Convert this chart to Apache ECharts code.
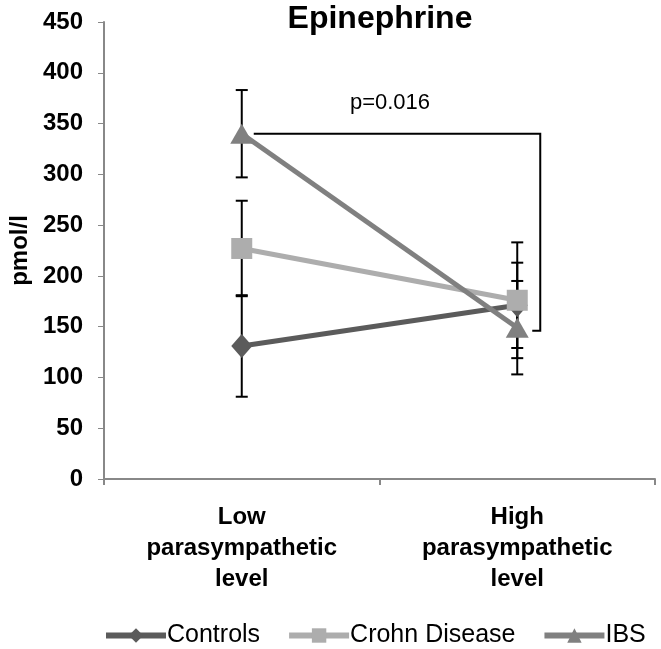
<!DOCTYPE html>
<html><head><meta charset="utf-8">
<script src="https://cdn.jsdelivr.net/npm/echarts@6/dist/echarts.min.js"></script>
<style>html,body{margin:0;padding:0;background:#fff}#c{width:661px;height:649px}</style>
</head><body><div id="c"></div>
<script>
var categories = ['Low\nparasympathetic\nlevel', 'High\nparasympathetic\nlevel'];
var controls = [131, 171];
var controlsErr = [50, 42];
var crohn = [227, 176];
var crohnErr = [47, 57];
var ibs = [340, 149];
var ibsErr = [43, 46];
var yTicks = [0, 50, 100, 150, 200, 250, 300, 350, 400, 450];
var pText = 'p=0.016';

var chart = echarts.init(document.getElementById('c'));
var font = 'Liberation Sans, Arial, sans-serif';

function errData(vals, errs) {
  return vals.map(function (v, i) { return [i, v - errs[i], v + errs[i]]; });
}
function errRender(params, api) {
  var x = api.value(0);
  var lo = api.coord([x, api.value(1)]);
  var hi = api.coord([x, api.value(2)]);
  var w = 6;
  var st = { stroke: '#000', lineWidth: 2 };
  return { type: 'group', children: [
    { type: 'line', shape: { x1: lo[0], y1: lo[1], x2: hi[0], y2: hi[1] }, style: st },
    { type: 'line', shape: { x1: lo[0] - w, y1: lo[1], x2: lo[0] + w, y2: lo[1] }, style: st },
    { type: 'line', shape: { x1: hi[0] - w, y1: hi[1], x2: hi[0] + w, y2: hi[1] }, style: st }
  ]};
}
function bracketRender(params, api) {
  var a = api.coord([0, ibs[0]]);
  var b = api.coord([1, ibs[1]]);
  var xr = b[0] + 23;
  var st = { stroke: '#000', lineWidth: 2, fill: null };
  return { type: 'group', children: [
    { type: 'polyline', shape: { points: [[a[0] + 12, a[1]], [xr, a[1]], [xr, b[1] + 3], [xr - 8, b[1] + 3]] }, style: st },
    { type: 'text', style: { text: pText, x: (a[0] + xr) / 2 - 1, y: a[1] - 31, align: 'center', verticalAlign: 'middle', font: '22px ' + font, fill: '#000' } }
  ]};
}

var option = {
  animation: false,
  title: { text: 'Epinephrine', left: 375, top: -2, textAlign: 'center',
    textStyle: { fontSize: 32, fontWeight: 'bold', fontFamily: font, color: '#000' } },
  grid: { left: 102, right: 6, top: 22, bottom: 170 },
  legend: {
    bottom: -4, left: 98, itemWidth: 60, itemHeight: 18, itemGap: 26,
    lineStyle: { width: 6 },
    textStyle: { fontSize: 25, fontFamily: font, color: '#000', padding: [0, 0, 0, -4] },
    data: ['Controls', 'Crohn Disease', 'IBS']
  },
  xAxis: {
    type: 'category', data: categories, boundaryGap: true,
    axisLine: { lineStyle: { color: '#888', width: 2 } },
    axisTick: { show: true, length: 6, lineStyle: { color: '#888', width: 2 } },
    axisLabel: { fontSize: 24, fontWeight: 'bold', fontFamily: font, color: '#000', lineHeight: 31, margin: 23, interval: 0 }
  },
  yAxis: {
    type: 'value', min: 0, max: 450, interval: 50,
    name: 'pmol/l', nameLocation: 'middle', nameGap: 72, nameRotate: 90,
    nameTextStyle: { fontSize: 24, fontWeight: 'bold', fontFamily: font, color: '#000' },
    splitLine: { show: false },
    axisLine: { show: true, lineStyle: { color: '#888', width: 2 } },
    axisTick: { show: true, length: 6, lineStyle: { color: '#888', width: 1 } },
    axisLabel: { fontSize: 24, fontWeight: 'bold', fontFamily: font, color: '#000', margin: 21,
      formatter: function (v) { return yTicks.indexOf(v) >= 0 ? String(v) : ''; } }
  },
  series: [
    { type: 'custom', name: 'errC', renderItem: errRender, data: errData(controls, controlsErr), z: 1, silent: true },
    { type: 'custom', name: 'errD', renderItem: errRender, data: errData(crohn, crohnErr), z: 1, silent: true },
    { type: 'custom', name: 'errI', renderItem: errRender, data: errData(ibs, ibsErr), z: 1, silent: true },
    { type: 'custom', name: 'bracket', renderItem: bracketRender, data: [[0]], z: 1, silent: true },
    { type: 'line', name: 'Controls', data: controls, symbol: 'diamond', symbolSize: [21, 24],
      lineStyle: { color: '#5b5b5b', width: 5 }, itemStyle: { color: '#5b5b5b' }, z: 3 },
    { type: 'line', name: 'Crohn Disease', data: crohn, symbol: 'rect', symbolSize: 21,
      lineStyle: { color: '#adadad', width: 5 }, itemStyle: { color: '#adadad' }, z: 3 },
    { type: 'line', name: 'IBS', data: ibs, symbol: 'triangle', symbolSize: [23, 20],
      lineStyle: { color: '#808080', width: 5 }, itemStyle: { color: '#808080' }, z: 3 }
  ]
};
chart.setOption(option);
</script></body></html>
